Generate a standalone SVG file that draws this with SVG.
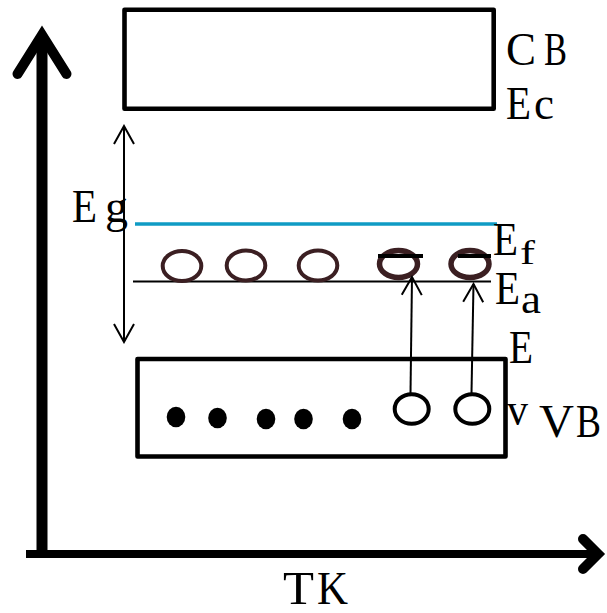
<svg xmlns="http://www.w3.org/2000/svg" width="607" height="613" viewBox="0 0 607 613">
  <style>
    .band { fill: #ffffff; stroke: #000000; stroke-width: 4.6; stroke-linejoin: round; }
    .axis { stroke: #000000; fill: none; }
    .head { stroke: #000000; fill: none; stroke-width: 10; stroke-linecap: round; stroke-linejoin: miter; stroke-miterlimit: 10; }
    .acc { fill: none; stroke: #3b1f22; }
    .hole { fill: none; stroke: #000000; stroke-width: 4; }
    .dot { fill: #000000; }
    .thin { stroke: #000000; stroke-width: 2; fill: none; }
    .lbl { font-family: "Liberation Serif", "Times New Roman", serif; fill: #000000; font-size: 46px; }
    .sub { font-family: "Liberation Serif", "Times New Roman", serif; fill: #000000; }
  </style>
  <defs>
    <marker id="open" viewBox="-20 -12 22 24" markerWidth="22" markerHeight="24" refX="0" refY="0" orient="auto-start-reverse" markerUnits="userSpaceOnUse">
      <path d="M-18,-10 L0,0 L-18,10" fill="none" stroke="#000000" stroke-width="2"/>
    </marker>
  </defs>

  <g id="axes">
    <line class="axis" x1="42" y1="36" x2="42" y2="558" stroke-width="11"/>
    <polyline class="head" points="17.5,74 42,35 66.5,74"/>
    <line class="axis" x1="26" y1="554" x2="599" y2="554" stroke-width="8"/>
    <polyline class="head" points="583,539 598,554 583,569"/>
  </g>

  <g id="conduction-band">
    <rect class="band" x="124.5" y="9.8" width="369.2" height="99"/>
  </g>

  <g id="valence-band">
    <rect class="band" x="137.5" y="359" width="368" height="97.5"/>
  </g>

  <g id="fermi-level">
    <line x1="135" y1="224" x2="497" y2="224" stroke="#0f9bc4" stroke-width="3.6"/>
  </g>

  <g id="acceptor-level">
    <line x1="133" y1="281.5" x2="491" y2="281.5" stroke="#000000" stroke-width="2.2"/>
  </g>

  <g id="acceptor-states">
    <ellipse class="acc" cx="182" cy="266" rx="19.3" ry="15" stroke-width="4"/>
    <ellipse class="acc" cx="246" cy="265.5" rx="19.3" ry="15" stroke-width="4"/>
    <ellipse class="acc" cx="318" cy="265.5" rx="19.3" ry="15" stroke-width="4"/>
    <ellipse class="acc" cx="398.5" cy="264" rx="19" ry="13.5" stroke-width="5.5"/>
    <ellipse class="acc" cx="470" cy="264" rx="19" ry="13.5" stroke-width="5.5"/>
    <line x1="378" y1="256" x2="423" y2="256" stroke="#000000" stroke-width="4"/>
    <line x1="458" y1="256" x2="491" y2="256" stroke="#000000" stroke-width="4"/>
  </g>

  <g id="electrons">
    <ellipse class="dot" cx="176" cy="417" rx="9.3" ry="10.3"/>
    <ellipse class="dot" cx="217.5" cy="418" rx="9.3" ry="10.3"/>
    <ellipse class="dot" cx="266" cy="419" rx="9.3" ry="10.3"/>
    <ellipse class="dot" cx="303.5" cy="419" rx="9.3" ry="10.3"/>
    <ellipse class="dot" cx="352" cy="419" rx="9.3" ry="10.3"/>
  </g>

  <g id="holes">
    <ellipse class="hole" cx="411.7" cy="409" rx="17" ry="14.8"/>
    <ellipse class="hole" cx="472.3" cy="409" rx="17" ry="14.8"/>
  </g>

  <g id="connectors">
    <line class="thin" x1="124" y1="126" x2="124" y2="342" marker-start="url(#open)" marker-end="url(#open)"/>
    <line class="thin" x1="410.5" y1="393" x2="412" y2="277" marker-end="url(#open)"/>
    <line class="thin" x1="471.5" y1="393" x2="473.5" y2="284" marker-end="url(#open)"/>
  </g>

  <g id="labels">
    <text class="lbl" x="506" y="65" textLength="30" lengthAdjust="spacingAndGlyphs">C</text>
    <text class="lbl" x="544" y="65" textLength="23" lengthAdjust="spacingAndGlyphs">B</text>
    <text class="lbl" x="506" y="119" textLength="25" lengthAdjust="spacingAndGlyphs">E</text>
    <text class="lbl" x="534" y="119" textLength="20" lengthAdjust="spacingAndGlyphs">c</text>
    <text class="lbl" x="72" y="222" textLength="25" lengthAdjust="spacingAndGlyphs">E</text>
    <text class="lbl" x="105" y="222" textLength="23" lengthAdjust="spacingAndGlyphs">g</text>
    <text class="lbl" x="493" y="255" textLength="25" lengthAdjust="spacingAndGlyphs" font-size="47">E</text>
    <text class="sub" x="520" y="264" font-size="33" textLength="15" lengthAdjust="spacingAndGlyphs">f</text>
    <text class="lbl" x="495" y="304" textLength="25" lengthAdjust="spacingAndGlyphs" font-size="43">E</text>
    <text class="sub" x="521" y="313" font-size="40" textLength="20" lengthAdjust="spacingAndGlyphs">a</text>
    <text class="lbl" x="509" y="363" textLength="24" lengthAdjust="spacingAndGlyphs">E</text>
    <text class="lbl" x="507" y="425" textLength="21" lengthAdjust="spacingAndGlyphs">v</text>
    <text class="lbl" x="539" y="437" textLength="35" lengthAdjust="spacingAndGlyphs">V</text>
    <text class="lbl" x="576" y="437" textLength="25" lengthAdjust="spacingAndGlyphs">B</text>
    <text class="lbl" x="283" y="604" font-size="44" textLength="31" lengthAdjust="spacingAndGlyphs">T</text>
    <text class="lbl" x="317" y="604" font-size="44" textLength="31" lengthAdjust="spacingAndGlyphs">K</text>
  </g>
</svg>
